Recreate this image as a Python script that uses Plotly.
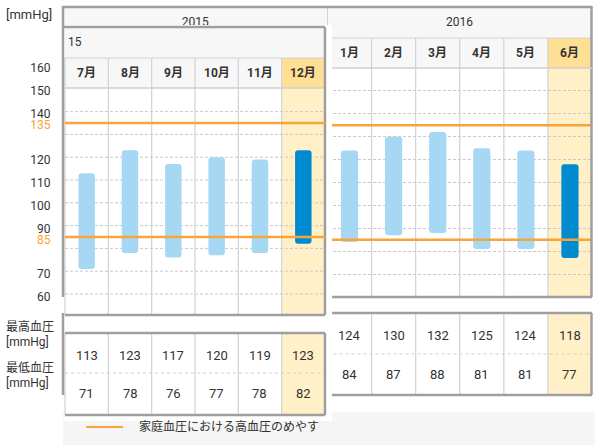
import plotly.graph_objects as go

# ---- data -------------------------------------------------------------
MONTHS_2015 = ["7月", "8月", "9月", "10月", "11月", "12月"]
HIGH_2015 = [113, 123, 117, 120, 119, 123]
LOW_2015 = [71, 78, 76, 77, 78, 82]

MONTHS_2016 = ["1月", "2月", "3月", "4月", "5月", "6月"]
HIGH_2016 = [124, 130, 132, 125, 124, 118]
LOW_2016 = [84, 87, 88, 81, 81, 77]

GUIDE_HIGH = 135
GUIDE_LOW = 85
Y_TICKS = [60, 70, 85, 90, 100, 110, 120, 135, 140, 150, 160]
GRID_VALUES = [70, 80, 90, 100, 110, 120, 130, 140, 150]
SELECTED = 5  # 最新月 (ハイライト)

ROW_LABELS = ["最高血圧", "[mmHg]", "最低血圧", "[mmHg]"]
LEGEND_TEXT = "家庭血圧における高血圧のめやす"

# ---- look -------------------------------------------------------------
W, H = 595, 445
ORANGE = "#f8a43a"
LIGHT_BLUE = "#a6d8f4"
DARK_BLUE = "#008bd1"
HEAD_BG = "#f7f7f7"
SEL_HEAD = "#ffdf94"
SEL_COL = "#fff0c7"
FRAME = "#9f9f9f"
DIVIDER = "#d2d2d2"
GRID = "#c9c9c9"
TEXT = "#333333"
FONT = "Roboto, 'Noto Sans CJK JP', sans-serif"

# overlay (2015 パネル) の画素スケール
OV_LEFT = 65.0
OV_COL = 43.33
OV_PX_PER_UNIT = 2.28
OV_GUIDE_PX = 123.0


def px_x(p):
    return p / W


def px_y(p):
    return 1 - p / H


def ov_x(p):
    return (p - OV_LEFT) / OV_COL


def ov_y(p):
    return GUIDE_HIGH - (p - OV_GUIDE_PX) / OV_PX_PER_UNIT


shapes = []


def paper_rect(x0, y0, x1, y1, fill, layer="below"):
    shapes.append(dict(type="rect", xref="paper", yref="paper", layer=layer,
                       x0=px_x(x0), x1=px_x(x1), y0=px_y(y1), y1=px_y(y0),
                       fillcolor=fill, line_width=0))


def paper_line(x0, y0, x1, y1, color, width=1, dash="solid", layer="below"):
    shapes.append(dict(type="line", xref="paper", yref="paper", layer=layer,
                       x0=px_x(x0), x1=px_x(x1), y0=px_y(y0), y1=px_y(y1),
                       line=dict(color=color, width=width, dash=dash)))


def col_rect(x0, x1, y0, y1, fill):
    shapes.append(dict(type="rect", xref="x", yref="paper", layer="below",
                       x0=x0, x1=x1, y0=px_y(y1), y1=px_y(y0),
                       fillcolor=fill, line_width=0))


def col_line(x, y0, y1, color, width=1):
    shapes.append(dict(type="line", xref="x", yref="paper", layer="below",
                       x0=x, x1=x, y0=px_y(y0), y1=px_y(y1),
                       line=dict(color=color, width=width)))


def ov_rect(x0, x1, y0, y1, fill):
    shapes.append(dict(type="rect", xref="x3", yref="y3", layer="below",
                       x0=x0, x1=x1, y0=ov_y(y1), y1=ov_y(y0),
                       fillcolor=fill, line_width=0))


def ov_line(x0, x1, y0, y1, color, width=1, dash="solid"):
    shapes.append(dict(type="line", xref="x3", yref="y3", layer="below",
                       x0=x0, x1=x1, y0=ov_y(y0), y1=ov_y(y1),
                       line=dict(color=color, width=width, dash=dash)))


fig = go.Figure()

# ---- 2016 (背面のグラフ) -------------------------------------------------
x16 = [i + 0.5 for i in range(len(MONTHS_2016))]
fig.add_trace(go.Bar(
    x=x16, y=[h - l for h, l in zip(HIGH_2016, LOW_2016)], base=LOW_2016,
    width=0.39,
    marker=dict(color=[DARK_BLUE if i == SELECTED else LIGHT_BLUE for i in range(len(x16))],
                cornerradius=3, line_width=0),
    xaxis="x", yaxis="y", hoverinfo="skip", showlegend=False,
))
for v in (GUIDE_HIGH, GUIDE_LOW):
    fig.add_trace(go.Scatter(x=[-6, 6], y=[v, v], mode="lines",
                             line=dict(color=ORANGE, width=2.5),
                             xaxis="x", yaxis="y", hoverinfo="skip", showlegend=False))

# 2015 見出し (上半分だけ見える)
fig.add_trace(go.Scatter(x=[0.5], y=[0.5], text=["2015"], mode="text",
                         textfont=dict(family=FONT, size=12, color=TEXT),
                         xaxis="x2", yaxis="y2", hoverinfo="skip", showlegend=False))

# ---- 2015 (手前のパネル) -------------------------------------------------
x15 = [i + 0.5 for i in range(len(MONTHS_2015))]
fig.add_trace(go.Bar(
    x=x15, y=[h - l for h, l in zip(HIGH_2015, LOW_2015)], base=LOW_2015,
    width=0.38,
    marker=dict(color=[DARK_BLUE if i == SELECTED else LIGHT_BLUE for i in range(len(x15))],
                cornerradius=3, line_width=0),
    xaxis="x3", yaxis="y3", hoverinfo="skip", showlegend=False,
))
for v in (GUIDE_HIGH, GUIDE_LOW):
    fig.add_trace(go.Scatter(x=[0, 6], y=[v, v], mode="lines",
                             line=dict(color=ORANGE, width=2.5),
                             xaxis="x3", yaxis="y3", hoverinfo="skip", showlegend=False))

# ---- background decoration (back chart) -------------------------------
paper_rect(63, 412, 595, 445, "#f5f5f5")
paper_rect(63, 7, 592, 68, HEAD_BG)
col_rect(SELECTED, SELECTED + 1, 38, 68, SEL_HEAD)
col_rect(SELECTED, SELECTED + 1, 68, 297, SEL_COL)
col_rect(SELECTED, SELECTED + 1, 313, 395, SEL_COL)
paper_line(327.5, 7, 327.5, 38, DIVIDER)
paper_line(327.5, 38, 592, 38, DIVIDER)
for k in range(1, 6):
    col_line(k, 38, 297, DIVIDER, 1.2)
    col_line(k, 313, 395, DIVIDER, 1.2)
paper_line(327.5, 354, 592, 354, "#cfcfcf", 1, "dot")

# frame lines on top
paper_line(62, 7, 592.5, 7, FRAME, 2.5, layer="above")
paper_line(63, 6, 63, 297, FRAME, 2.5, layer="above")
paper_line(63, 313, 63, 395, FRAME, 2.5, layer="above")
paper_line(591.5, 7, 591.5, 297, FRAME, 2.5, layer="above")
paper_line(591.5, 313, 591.5, 395, FRAME, 2.5, layer="above")
paper_line(332, 68, 592, 68, "#cfcfcf", 1.5, layer="above")
paper_line(332, 297, 592, 297, FRAME, 2.5, layer="above")
paper_line(332, 313, 592, 313, FRAME, 2.5, layer="above")
paper_line(332, 395, 592, 395, FRAME, 2.5, layer="above")

# legend
paper_line(86, 427, 123, 427, ORANGE, 2, layer="above")

# ---- overlay decoration ------------------------------------------------
ov_rect(ov_x(64), ov_x(332), 25, 421, "white")
ov_rect(0, 6, 27, 88, HEAD_BG)
ov_rect(SELECTED, SELECTED + 1, 58, 88, SEL_HEAD)
ov_rect(SELECTED, SELECTED + 1, 88, 315, SEL_COL)
ov_rect(SELECTED, SELECTED + 1, 333, 415, SEL_COL)
for v in [g for g in GRID_VALUES if g < 150] + [60]:
    py = OV_GUIDE_PX + (GUIDE_HIGH - v) * OV_PX_PER_UNIT
    ov_line(0, 6, py, py, GRID, 1, "3px,2px")
for k in range(0, 6):
    ov_line(k, k, 58, 315, DIVIDER, 1.2)
    ov_line(k, k, 333, 415, DIVIDER, 1.2)
ov_line(0, 6, 58, 58, DIVIDER, 1)
ov_line(0, 6, 88, 88, "#cfcfcf", 1.5)
ov_line(0, 6, 373, 373, "#cfcfcf", 1, "dot")
ov_line(ov_x(63), 6, 27, 27, FRAME, 2.5)
ov_line(6, 6, 27, 315, FRAME, 2.5)
ov_line(0, 6, 315, 315, FRAME, 2.5)
ov_line(0, 6, 333, 333, FRAME, 2.5)
ov_line(0, 6, 415, 415, FRAME, 2.5)
ov_line(6, 6, 333, 415, FRAME, 2.5)

# ---- texts -------------------------------------------------------------
annotations = []


def add_text(text, x, y, xref="paper", size=13, xanchor="center", color=TEXT, weight="normal"):
    annotations.append(dict(text=text, x=x, y=px_y(y), xref=xref, yref="paper",
                            xanchor=xanchor, yanchor="middle", showarrow=False,
                            font=dict(family=FONT, size=size, color=color, weight=weight)))


add_text("[mmHg]", px_x(4), 15, xanchor="left")
add_text("2016", px_x(459.75), 22, size=12)
add_text("15", px_x(65.5), 42, size=12, xanchor="left")
for i, m in enumerate(MONTHS_2016):
    add_text(m, x16[i], 53, xref="x", size=12, weight="bold")
    add_text(str(HIGH_2016[i]), x16[i], 335, xref="x")
    add_text(str(LOW_2016[i]), x16[i], 374, xref="x")
for i, m in enumerate(MONTHS_2015):
    add_text(m, x15[i], 73, xref="x3", size=12, weight="bold")
    add_text(str(HIGH_2015[i]), x15[i], 355, xref="x3")
    add_text(str(LOW_2015[i]), x15[i], 393, xref="x3")
for text, y in zip(ROW_LABELS, [327, 342, 368, 383]):
    add_text(text, px_x(4), y, size=12, xanchor="left")
add_text(LEGEND_TEXT, px_x(137), 427, size=12, xanchor="left")

# ---- axes --------------------------------------------------------------
tick_vals = sorted(set(Y_TICKS + GRID_VALUES))
tick_text = []
for v in tick_vals:
    if v in (GUIDE_HIGH, GUIDE_LOW):
        tick_text.append(f'<span style="color:{ORANGE}">{v}</span>')
    elif v in Y_TICKS:
        tick_text.append(str(v))
    else:
        tick_text.append("")

hidden = dict(visible=False, automargin=False, fixedrange=True)
fig.update_layout(
    width=W, height=H, autosize=False,
    margin=dict(l=0, r=0, t=0, b=0, pad=0, autoexpand=False),
    paper_bgcolor="white", plot_bgcolor="white",
    font=dict(family=FONT, color=TEXT),
    showlegend=False,
    xaxis=dict(domain=[px_x(63), px_x(592)], range=[-6, 6], anchor="y", **hidden),
    yaxis=dict(domain=[px_y(297), px_y(68)], range=[60, 160], anchor="x",
               tickvals=tick_vals, ticktext=tick_text, automargin=False, fixedrange=True,
               showgrid=True, gridcolor=GRID, gridwidth=1, griddash="3px,2px",
               zeroline=False, showline=False,
               ticks="outside", ticklen=9, tickcolor="rgba(0,0,0,0)",
               tickfont=dict(size=12, color=TEXT)),
    xaxis2=dict(domain=[px_x(63), px_x(327.5)], range=[0, 1], anchor="y2", **hidden),
    yaxis2=dict(domain=[px_y(38), px_y(7)], range=[0, 1], anchor="x2", **hidden),
    xaxis3=dict(domain=[px_x(64), px_x(332)], range=[ov_x(64), ov_x(332)],
                anchor="y3", **hidden),
    yaxis3=dict(domain=[px_y(421), px_y(25)], range=[ov_y(421), ov_y(25)],
                anchor="x3", **hidden),
    shapes=shapes,
    annotations=annotations,
)

fig.write_html(
    "out.html",
    config={"displayModeBar": False},
    post_script="document.body.style.margin='0px';document.body.style.overflow='hidden';",
)
